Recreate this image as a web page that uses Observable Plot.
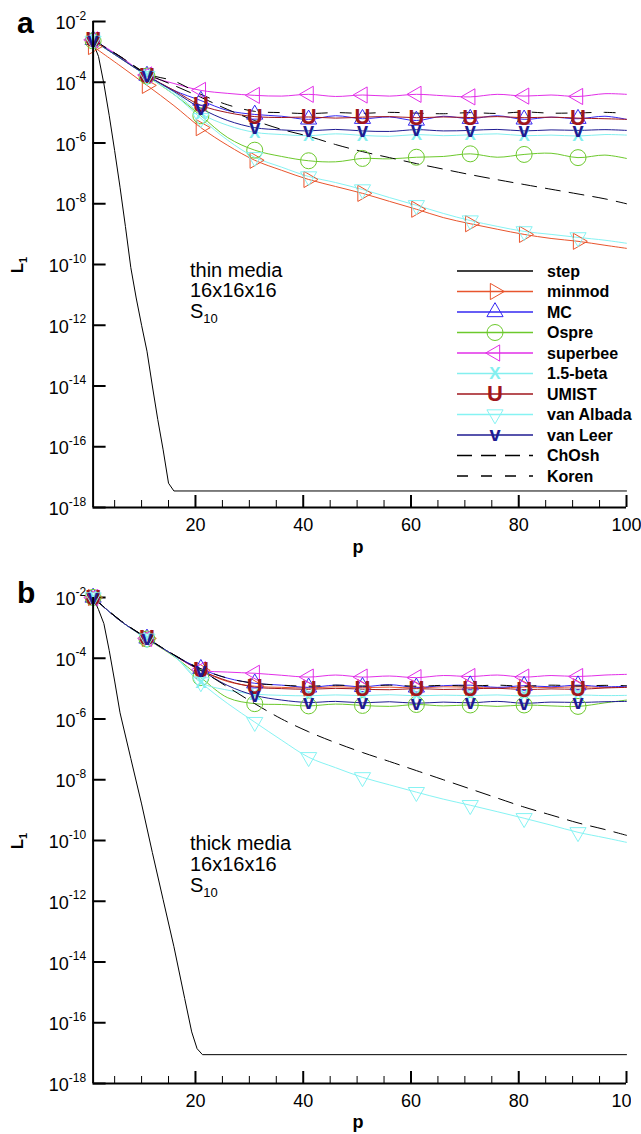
<!DOCTYPE html>
<html><head><meta charset="utf-8">
<script src="https://cdn.jsdelivr.net/npm/d3@7"></script>
<script src="https://cdn.jsdelivr.net/npm/@observablehq/plot@0.6"></script>
<style>
body{margin:0;background:#fff;}
#wrap{width:641px;height:1134px;position:relative;overflow:hidden;}
#pa{width:641px;height:567px;}
#pb{width:631px;height:567px;overflow:hidden;}
svg{display:block}
</style></head><body><div id="wrap"><div id="pa"></div><div id="pb"></div></div>
<script>
// ---------------- data ----------------
const P = [1,6,11,16,21,26,31,36,41,46,51,56,61,66,71,76,81,86,91,96,100];
const markerP = [1,11,21,31,41,51,61,71,81,91];
const seriesNames = ["minmod","MC","Ospre","superbee","1.5-beta","UMIST","van Albada","van Leer","ChOsh","Koren"];
const legendNames = ["step","minmod","MC","Ospre","superbee","1.5-beta","UMIST","van Albada","van Leer","ChOsh","Koren"];
const yTicks = [1e-2,1e-4,1e-6,1e-8,1e-10,1e-12,1e-14,1e-16,1e-18];
const yTickExp = ["-2","-4","-6","-8","-10","-12","-14","-16","-18"];
const xMajor = [20,40,60,80,100];
const xTickLabels = ["20","40","60","80","100"];
const xMinor = [5,10,15,25,30,35,45,50,55,65,70,75,85,90,95];
const annotThin = ["thin media","16x16x16","S","10"];
const annotThick = ["thick media","16x16x16","S","10"];

// panel a: thin media
const stepPThin = [1,2,3,4,5,6,7,8,9,10,11,12,13,14,15,16,100];
const stepThin = [2.0e-3,7.1e-4,8.9e-5,7.9e-6,5.6e-7,3.5e-8,1.78e-9,7.9e-11,7.9e-12,1.0e-12,1.4e-13,1.0e-14,7.9e-16,7.9e-17,6.3e-18,3.5e-18,3.5e-18];
const minmodThin = [1.5e-3,3.5e-4,7.9e-5,1.7e-5,3.2e-6,8.3e-7,2.7e-7,1.26e-7,6.3e-8,3.7e-8,2.2e-8,1.2e-8,6.6e-9,3.5e-9,2.2e-9,1.45e-9,9.8e-10,7.2e-10,5.8e-10,4.3e-10,3.4e-10];
const mcThin = [2.5e-3,6.6e-4,1.66e-4,5.4e-5,2.5e-5,1.17e-5,8.7e-6,7.6e-6,6.0e-6,7.9e-6,6.3e-6,7.2e-6,5.5e-6,7.6e-6,6.3e-6,7.9e-6,6.0e-6,7.1e-6,6.3e-6,7.6e-6,6.0e-6];
const ospreThin = [2.3e-3,6.3e-4,1.6e-4,4.0e-5,7.9e-6,1.5e-6,5.8e-7,3.6e-7,2.6e-7,2.4e-7,3.1e-7,3.0e-7,3.4e-7,3.6e-7,4.4e-7,3.4e-7,4.2e-7,4.6e-7,3.3e-7,4.0e-7,3.1e-7];
const superbeeThin = [2.5e-3,7.1e-4,1.74e-4,9.1e-5,5.4e-5,4.3e-5,3.7e-5,3.5e-5,4.0e-5,3.4e-5,3.8e-5,3.5e-5,4.0e-5,3.6e-5,3.3e-5,4.0e-5,3.5e-5,3.8e-5,3.4e-5,4.2e-5,4.0e-5];
const beta15Thin = [2.4e-3,6.3e-4,1.66e-4,4.7e-5,9.3e-6,3.8e-6,2.24e-6,1.9e-6,1.74e-6,2.0e-6,1.78e-6,1.66e-6,1.9e-6,1.74e-6,1.86e-6,2.0e-6,1.74e-6,1.82e-6,1.7e-6,1.9e-6,1.82e-6];
const umistThin = [2.4e-3,6.3e-4,1.66e-4,5.4e-5,1.74e-5,1.0e-5,7.4e-6,6.9e-6,7.2e-6,6.6e-6,7.1e-6,7.4e-6,6.8e-6,7.2e-6,6.9e-6,7.4e-6,6.8e-6,7.1e-6,6.6e-6,6.3e-6,6.0e-6];
const vanAlbadaThin = [2.3e-3,6.3e-4,1.6e-4,4.0e-5,6.5e-6,1.23e-6,3.4e-7,1.6e-7,7.9e-8,5.0e-8,2.95e-8,1.6e-8,8.9e-9,4.8e-9,2.8e-9,1.8e-9,1.23e-9,9.8e-10,7.8e-10,6.3e-10,5.0e-10];
const vanLeerThin = [2.4e-3,6.3e-4,1.66e-4,5.0e-5,1.38e-5,5.5e-6,3.2e-6,2.7e-6,2.5e-6,2.8e-6,2.5e-6,2.4e-6,2.75e-6,2.5e-6,2.6e-6,2.8e-6,2.5e-6,2.7e-6,2.6e-6,2.75e-6,2.6e-6];
const chOshThin = [2.5e-3,7.1e-4,1.9e-4,7.9e-5,3.2e-5,1.26e-5,5.5e-6,2.8e-6,1.66e-6,8.9e-7,5.2e-7,3.3e-7,2.1e-7,1.38e-7,9.1e-8,6.2e-8,4.3e-8,3.0e-8,2.1e-8,1.45e-8,1.0e-8];
const korenThin = [2.5e-3,7.1e-4,1.9e-4,1.1e-4,4.0e-5,1.8e-5,1.1e-5,1.0e-5,9.3e-6,1.0e-5,9.5e-6,1.02e-5,9.6e-6,9.2e-6,1.0e-5,9.4e-6,1.05e-5,9.6e-6,9.8e-6,1.02e-5,9.5e-6];

// panel b: thick media
const stepPThick = [1,2,3,4,5,6,8,10,12,14,16,18,19.3,20.3,21.3,100];
const stepThick = [1e-2,4.0e-3,1.38e-3,1.78e-4,1.78e-5,1.6e-6,5.0e-8,1.6e-9,4.0e-11,1.12e-12,3.2e-14,6.3e-16,5.0e-17,1.4e-17,8.9e-18,8.9e-18];
const minmodThick = [1e-2,1.74e-3,4.5e-4,1.26e-4,4.0e-5,1.7e-5,1.2e-5,1.1e-5,1.05e-5,1.15e-5,1.08e-5,1.12e-5,1.05e-5,1.15e-5,1.1e-5,1.05e-5,1.12e-5,1.08e-5,1.15e-5,1.1e-5,1.12e-5];
const mcThick = [1e-2,1.74e-3,4.5e-4,1.26e-4,4.5e-5,2.2e-5,1.5e-5,1.3e-5,1.1e-5,1.3e-5,1.15e-5,1.35e-5,1.1e-5,1.25e-5,1.3e-5,1.1e-5,1.25e-5,1.15e-5,1.3e-5,1.15e-5,1.2e-5];
const ospreThick = [1e-2,1.74e-3,4.3e-4,1.15e-4,2.3e-5,5.0e-6,3.2e-6,3.0e-6,2.7e-6,3.1e-6,2.8e-6,2.6e-6,3.0e-6,2.7e-6,2.9e-6,2.6e-6,2.9e-6,2.7e-6,2.6e-6,3.4e-6,4.2e-6];
const superbeeThick = [1e-2,1.74e-3,4.5e-4,1.26e-4,4.2e-5,3.5e-5,3.2e-5,2.75e-5,2.4e-5,2.8e-5,2.4e-5,2.6e-5,2.3e-5,2.7e-5,2.5e-5,2.8e-5,2.4e-5,2.7e-5,2.5e-5,2.8e-5,2.95e-5];
const beta15Thick = [1e-2,1.74e-3,4.4e-4,1.2e-4,1.6e-5,8.9e-6,6.6e-6,6.0e-6,5.8e-6,6.2e-6,5.9e-6,6.3e-6,5.8e-6,6.1e-6,5.9e-6,6.2e-6,5.7e-6,6.0e-6,6.2e-6,5.9e-6,6.0e-6];
const umistThick = [1e-2,1.74e-3,4.5e-4,1.26e-4,4.0e-5,1.8e-5,1.12e-5,1.0e-5,9.5e-6,1.02e-5,9.6e-6,9.2e-6,1.0e-5,9.4e-6,9.8e-6,1.03e-5,9.3e-6,9.8e-6,9.5e-6,1.05e-5,1.1e-5];
const vanAlbadaThick = [1e-2,1.74e-3,4.4e-4,1.2e-4,1.6e-5,3.2e-6,7.9e-7,2.0e-7,5.5e-8,2.5e-8,1.2e-8,6.8e-9,3.9e-9,2.3e-9,1.45e-9,8.9e-10,5.4e-10,3.2e-10,1.86e-10,1.23e-10,8.7e-11];
const vanLeerThick = [1e-2,1.74e-3,4.5e-4,1.26e-4,4.0e-5,1.26e-5,6.0e-6,4.2e-6,3.5e-6,3.8e-6,3.4e-6,3.7e-6,3.3e-6,3.6e-6,3.4e-6,3.8e-6,3.3e-6,3.6e-6,3.5e-6,3.7e-6,3.8e-6];
const chOshThick = [1e-2,1.8e-3,4.6e-4,1.3e-4,4.0e-5,1.12e-5,3.2e-6,1.0e-6,3.8e-7,1.66e-7,7.9e-8,4.0e-8,2.0e-8,1.0e-8,5.0e-9,2.5e-9,1.26e-9,6.9e-10,3.8e-10,2.3e-10,1.48e-10];
const korenThick = [1e-2,1.8e-3,4.6e-4,1.3e-4,4.5e-5,2.2e-5,1.5e-5,1.3e-5,1.2e-5,1.3e-5,1.22e-5,1.3e-5,1.2e-5,1.28e-5,1.22e-5,1.3e-5,1.2e-5,1.3e-5,1.22e-5,1.28e-5,1.25e-5];

// ---------------- styles ----------------
const FONT = '"Liberation Sans", Arial, Helvetica, sans-serif';
const styles = {
  "step": {color: "#000000"},
  "minmod": {color: "#E8552D", marker: "tri", rotate: 90},
  "MC": {color: "#3528F2", marker: "tri", rotate: 0},
  "Ospre": {color: "#6CC92C", marker: "circle"},
  "superbee": {color: "#E22FE8", marker: "tri", rotate: -90},
  "1.5-beta": {color: "#84EFEF", marker: "text", glyph: "X", size: 17},
  "UMIST": {color: "#A0161C", marker: "text", glyph: "U", size: 22},
  "van Albada": {color: "#86F3F3", marker: "tri", rotate: 180},
  "van Leer": {color: "#1F1B92", marker: "text", glyph: "v", size: 20},
  "ChOsh": {color: "#000000", dash: "15,9"},
  "Koren": {color: "#000000", dash: "11,13"}
};
const TRI_R = 6, CIRC_R = 8;

function rows(name, ps, vs) { return ps.map((p, i) => ({s: name, p, v: vs[i]})); }

function makePanel(seriesVals, stepP, stepV, marginTop, marginBottom) {
  const marks = [];
  marks.push(Plot.axisY({ticks: yTicks, tickSize: -13, strokeWidth: 2, tickFormat: () => "", label: null}));
  marks.push(Plot.axisY({ticks: yTicks, tickSize: 0, tickPadding: 7, fontSize: 18, label: null,
    tickFormat: d => "10|" + yTickExp[yTicks.indexOf(d)]}));
  marks.push(Plot.axisX({ticks: xMinor, tickSize: -7, strokeWidth: 1, tickFormat: () => "", label: null}));
  marks.push(Plot.axisX({ticks: xMajor, tickSize: -12, strokeWidth: 2, tickFormat: () => "", label: null}));
  marks.push(Plot.axisX({ticks: xMajor, tickSize: 0, tickPadding: 11, fontSize: 18, label: null,
    tickFormat: d => xTickLabels[xMajor.indexOf(d)]}));
  marks.push(Plot.line(rows("step", stepP, stepV), {x: "p", y: "v", stroke: styles.step.color, strokeWidth: 1}));
  seriesNames.forEach((name, k) => {
    const st = styles[name];
    marks.push(Plot.line(rows(name, P, seriesVals[k]), {
      x: "p", y: "v", stroke: st.color, strokeWidth: 1, strokeDasharray: st.dash, curve: "catmull-rom"}));
  });
  seriesNames.forEach((name, k) => {
    const st = styles[name];
    if (!st.marker) return;
    const mr = rows(name, P, seriesVals[k]).filter(d => markerP.includes(d.p));
    if (st.marker === "tri") {
      marks.push(Plot.dot(mr, {x: "p", y: "v", symbol: "triangle", r: TRI_R, rotate: st.rotate,
        stroke: st.color, fill: "none", strokeWidth: 1}));
    } else if (st.marker === "circle") {
      marks.push(Plot.dot(mr, {x: "p", y: "v", r: CIRC_R, stroke: st.color, fill: "none", strokeWidth: 1}));
    } else {
      marks.push(Plot.text(mr, {x: "p", y: "v", text: () => st.glyph, fill: st.color,
        fontWeight: "bold", fontSize: st.size}));
    }
  });
  marks.push(Plot.ruleX([1], {strokeWidth: 2}));
  marks.push(Plot.ruleY([1e-18], {strokeWidth: 2}));

  const svg = Plot.plot({
    width: 641, height: 567,
    marginLeft: 92.6, marginRight: 15, marginTop, marginBottom,
    style: {fontFamily: FONT, fontSize: "18px", background: "#fff", maxWidth: "none", color: "#000"},
    x: {domain: [1, 100], label: null},
    y: {type: "log", domain: [1e-18, 1e-2], label: null},
    marks
  });
  // superscript exponents on y tick labels
  d3.select(svg).selectAll('g[aria-label="y-axis tick label"] text').each(function() {
    const parts = this.textContent.split("|");
    if (parts.length < 2) return;
    this.textContent = "";
    this.setAttribute("y", "7.5");
    d3.select(this).append("tspan").text(parts[0]);
    d3.select(this).append("tspan").attr("dy", -9.5).attr("font-size", 12).text(parts[1]);
  });
  return svg;
}

function annotate(svg, letter, letterY, lY, pY, annot, annY) {
  const g = d3.select(svg).append("g").attr("font-family", FONT).attr("fill", "#000")
    .attr("text-anchor", "start");
  g.append("text").attr("x", 17).attr("y", letterY).attr("font-size", 30).attr("font-weight", "bold").text(letter);
  const lt = g.append("text").attr("transform", `translate(23,${lY}) rotate(-90)`)
    .attr("text-anchor", "middle").attr("font-size", 17).attr("font-weight", "bold");
  lt.append("tspan").text("L");
  lt.append("tspan").attr("dy", 4).attr("font-size", 11).text("1");
  g.append("text").attr("x", 358).attr("y", pY).attr("text-anchor", "middle")
    .attr("font-size", 18).attr("font-weight", "bold").text("p");
  g.append("text").attr("x", 190).attr("y", annY[0]).attr("font-size", 20).text(annot[0]);
  g.append("text").attr("x", 190).attr("y", annY[1]).attr("font-size", 20).text(annot[1]);
  const s = g.append("text").attr("x", 190).attr("y", annY[2]).attr("font-size", 20);
  s.append("tspan").text(annot[2]);
  s.append("tspan").attr("dy", 5).attr("font-size", 13).text(annot[3]);
}

function legend(svg) {
  const g = d3.select(svg).append("g").attr("font-family", FONT).attr("text-anchor", "start");
  legendNames.forEach((name, i) => {
    const y = 271 + i * 20.5;
    const st = styles[name];
    g.append("line").attr("x1", 457).attr("x2", 533).attr("y1", y).attr("y2", y)
      .attr("stroke", st.color).attr("stroke-width", 1.4).attr("stroke-dasharray", st.dash || null);
    if (st.marker === "tri") {
      g.append("path").attr("d", d3.symbol(d3.symbolTriangle, TRI_R * TRI_R * Math.PI)())
        .attr("transform", `translate(495,${y}) rotate(${st.rotate})`)
        .attr("fill", "none").attr("stroke", st.color).attr("stroke-width", 1);
    } else if (st.marker === "circle") {
      g.append("circle").attr("cx", 495).attr("cy", y).attr("r", CIRC_R)
        .attr("fill", "none").attr("stroke", st.color).attr("stroke-width", 1);
    } else if (st.marker === "text") {
      g.append("text").attr("x", 495).attr("y", y).attr("dy", "0.32em").attr("text-anchor", "middle")
        .attr("font-weight", "bold").attr("font-size", st.size).attr("fill", st.color).text(st.glyph);
    }
    g.append("text").attr("x", 547).attr("y", y + 5.5).attr("font-size", 16)
      .attr("font-weight", "bold").attr("fill", "#000").text(name);
  });
}

const thinVals = [minmodThin, mcThin, ospreThin, superbeeThin, beta15Thin, umistThin, vanAlbadaThin, vanLeerThin, chOshThin, korenThin];
const thickVals = [minmodThick, mcThick, ospreThick, superbeeThick, beta15Thick, umistThick, vanAlbadaThick, vanLeerThick, chOshThick, korenThick];

const svgA = makePanel(thinVals, stepPThin, stepThin, 21, 60);
annotate(svgA, "a", 33, 265, 553, annotThin, [277, 297, 318]);
legend(svgA);
document.getElementById("pa").appendChild(svgA);

const svgB = makePanel(thickVals, stepPThick, stepThick, 30, 51);
annotate(svgB, "b", 36, 274, 561, annotThick, [283, 304, 325]);
document.getElementById("pb").appendChild(svgB);
</script>
</body></html>
